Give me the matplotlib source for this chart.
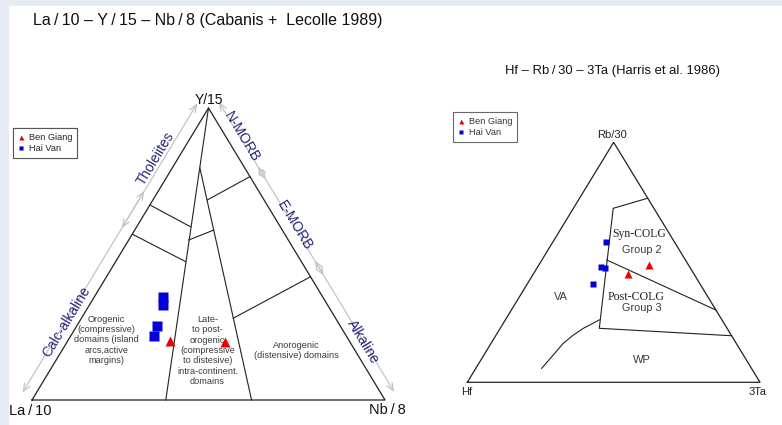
import numpy as np
import matplotlib
matplotlib.use("Agg")
import matplotlib.pyplot as plt
from matplotlib.patches import Rectangle
from matplotlib.lines import Line2D

plt.rcParams['font.family'] = ['Liberation Sans', 'DejaVu Sans']

# ---------------- data: La/10 - Y/15 - Nb/8 (fractions) ----------------
hv_la = [0.453, 0.467, 0.518, 0.544]
hv_y = [0.354, 0.325, 0.253, 0.218]
hv_nb = [0.193, 0.208, 0.229, 0.238]
bg_la = [0.508, 0.354]
bg_y = [0.202, 0.199]
bg_nb = [0.290, 0.447]

# ---------------- data: Hf - Rb/30 - 3Ta (fractions) ----------------
hv_hf = [0.234, 0.302, 0.293, 0.364]
hv_rb = [0.586, 0.482, 0.475, 0.410]
hv_ta = [0.180, 0.216, 0.232, 0.226]
bg_hf = [0.134, 0.227]
bg_rb = [0.489, 0.450]
bg_ta = [0.377, 0.323]

# field boundaries (a, b, c) = (left, top, right) vertex fractions
left_fields = [
    [(0, 1, 0), (0.621, 0, 0.379)],
    [(0.127, 0.795, 0.078), (0.378, 0, 0.622)],
    [(0.332, 0.668, 0), (0.254, 0.593, 0.153)],
    [(0.432, 0.568, 0), (0.328, 0.474, 0.198)],
    [(0.161, 0.685, 0.154), (0, 0.765, 0.235)],
    [(0.282, 0.548, 0.170), (0.194, 0.582, 0.224)],
    [(0.290, 0.280, 0.430), (0, 0.422, 0.578)],
]
right_fields = [
    [(0, 0.767, 0.233), (0.139, 0.725, 0.136), (0.4365, 0.225, 0.3385), (0, 0.194, 0.806)],
    [(0.269, 0.510, 0.221), (0, 0.301, 0.699)],
    [(0.419, 0.260, 0.321), (0.4535, 0.243, 0.3035), (0.491, 0.225, 0.284),
     (0.539, 0.197, 0.264), (0.591, 0.1625, 0.2465), (0.649, 0.114, 0.237),
     (0.717, 0.058, 0.225)],
]

# magmatic-series arrows: (edge, t_start, t_end, label, t_label, label offset px)
series_arrows = [
    ('left', 0.004, 0.695, 'Calc-alkaline', 0.247, 11),
    ('left', 0.567, 0.995, 'Tholeiites', 0.793, 19),
    ('right', 0.0, 0.266, 'N-MORB', 0.123, 13),
    ('right', 0.221, 0.595, 'E-MORB', 0.427, 13),
    ('right', 0.543, 0.994, 'Alkaline', 0.822, 11),
]

legend_labels = ['Ben Giang', 'Hai Van']
RED = '#ee0000'
BLUE = '#0000dd'
NAVY = '#26267a'
TXT = '#3a3a3a'


def tern(a, b, c):
    a, b, c = (np.asarray(v, dtype=float) for v in (a, b, c))
    s = a + b + c
    return (c + b / 2) / s, b / s


W, H = 782, 425
fig = plt.figure(figsize=(W / 100, H / 100), dpi=100)
fig.patch.set_facecolor('#e7ebf6')
fig.add_artist(Rectangle((9 / W, 0), 1, (H - 6) / H, transform=fig.transFigure,
                         facecolor='white', edgecolor='none', zorder=-10))


def make_ax(x0, x1, ybase, yapex):
    ax = fig.add_axes([x0 / W, (H - ybase) / H, (x1 - x0) / W, (ybase - yapex) / H])
    ax.set_xlim(0, 1)
    ax.set_ylim(0, 1)
    ax.axis('off')
    return ax


axL = make_ax(32, 385, 400, 108)
axR = make_ax(467.3, 760, 382.3, 142.3)


def draw_triangle(ax, fields):
    x, y = tern([1, 0, 0, 1], [0, 1, 0, 0], [0, 0, 1, 0])
    ax.plot(x, y, color='#222222', lw=0.9, clip_on=False)
    for f in fields:
        a, b, c = zip(*f)
        x, y = tern(a, b, c)
        ax.plot(x, y, color='#222222', lw=0.8, clip_on=False)


draw_triangle(axL, left_fields)
draw_triangle(axR, right_fields)

# ---- left panel points ----
x, y = tern(bg_la, bg_y, bg_nb)
axL.plot(x, y, ls='none', marker='^', ms=7.2, color=RED, mec='none', clip_on=False, zorder=5)
x, y = tern(hv_la, hv_y, hv_nb)
axL.plot(x, y, ls='none', marker='s', ms=6.8, color=BLUE, mec='none', clip_on=False, zorder=5)

# ---- right panel points ----
x, y = tern(bg_hf, bg_rb, bg_ta)
axR.plot(x, y, ls='none', marker='^', ms=6.2, color=RED, mec='none', clip_on=False, zorder=5)
x, y = tern(hv_hf, hv_rb, hv_ta)
axR.plot(x, y, ls='none', marker='s', ms=5.0, color=BLUE, mec='none', clip_on=False, zorder=5)

# ---- arrows along the edges of the left triangle ----
fig.canvas.draw()
edges = {
    'left': (tern(1, 0, 0), tern(0, 1, 0)),
    'right': (tern(0, 1, 0), tern(0, 0, 1)),
}
inv = axL.transData.inverted()
for edge, t0, t1, lab, tl, loff in series_arrows:
    P0, P1 = edges[edge]
    d0 = axL.transData.transform(np.array(P0, dtype=float))
    d1 = axL.transData.transform(np.array(P1, dtype=float))
    v = d1 - d0
    u = v / np.hypot(*v)
    n = np.array([-u[1], u[0]])
    off = 12
    pa = inv.transform(d0 + t0 * v + off * n)
    pb = inv.transform(d0 + t1 * v + off * n)
    axL.annotate('', xy=pb, xytext=pa, xycoords='data', textcoords='data',
                 arrowprops=dict(arrowstyle='<->,head_length=0.55,head_width=0.22',
                                 color='#c4c4c4', lw=0.9, shrinkA=0, shrinkB=0),
                 annotation_clip=False)
    pl = inv.transform(d0 + tl * v + loff * n)
    ang = np.degrees(np.arctan2(v[1], v[0]))
    axL.text(pl[0], pl[1], lab, rotation=ang, rotation_mode='anchor', ha='center',
             va='center', fontsize=10, color=NAVY, clip_on=False)

# ---- left panel labels ----
axL.text(0.501, 1.029, 'Y/15', ha='center', va='center', fontsize=10, color='#111111')
axL.text(-0.006, -0.038, 'La\u2009/\u200910', ha='center', va='center', fontsize=10.5, color='#111111')
axL.text(1.006, -0.034, 'Nb\u2009/\u20098', ha='center', va='center', fontsize=10.5, color='#111111')
axL.text(0.2116, 0.2055, 'Orogenic\n(compressive)\ndomains (island\narcs,active\nmargins)',
         ha='center', va='center', multialignment='center', fontsize=6.6, color=TXT, linespacing=1.15)
axL.text(0.497, 0.1695, 'Late-\nto post-\norogenic\n(compressive\nto distesive)\nintra-continent.\ndomains',
         ha='center', va='center', multialignment='center', fontsize=6.6, color=TXT, linespacing=1.2)
axL.text(0.750, 0.169, 'Anorogenic\n(distensive) domains', ha='center', va='center',
         multialignment='center', fontsize=6.6, color=TXT, linespacing=1.15)

# ---- right panel labels ----
axR.text(0.496, 1.0325, 'Rb/30', ha='center', va='center', fontsize=8, color='#222222')
axR.text(-0.002, -0.040, 'Hf', ha='center', va='center', fontsize=8, color='#222222')
axR.text(0.993, -0.040, '3Ta', ha='center', va='center', fontsize=8, color='#222222')
axR.text(0.5876, 0.6167, 'Syn-COLG', ha='center', va='center', fontsize=8.4,
         family=['Liberation Serif', 'DejaVu Serif'], color='#222222')
axR.text(0.596, 0.551, 'Group 2', ha='center', va='center', fontsize=7.8, color=TXT)
axR.text(0.5753, 0.357, 'Post-COLG', ha='center', va='center', fontsize=8.6,
         family=['Liberation Serif', 'DejaVu Serif'], color='#222222')
axR.text(0.596, 0.311, 'Group 3', ha='center', va='center', fontsize=7.8, color=TXT)
axR.text(0.319, 0.357, 'VA', ha='center', va='center', fontsize=8, color=TXT)
axR.text(0.596, 0.093, 'WP', ha='center', va='center', fontsize=8, color=TXT)

# ---- titles ----
fig.text(207.5 / W, 1 - 20 / H,
         'La\u2009/\u200910 \u2013 Y\u2009/\u200915 \u2013 Nb\u2009/\u20098 (Cabanis +  Lecolle 1989)',
         ha='center', va='center', fontsize=11.5, color='#111111')
fig.text(612.5 / W, 1 - 71 / H, 'Hf \u2013 Rb\u2009/\u200930 \u2013 3Ta (Harris et al. 1986)',
         ha='center', va='center', fontsize=9.4, color='#111111')

# ---- legends ----
def add_legend(x_px, y_px):
    handles = [Line2D([], [], ls='none', marker='^', ms=3.6, color=RED, mec='none'),
               Line2D([], [], ls='none', marker='s', ms=3.2, color=BLUE, mec='none')]
    lg = fig.legend(handles, legend_labels, loc='upper left',
                    bbox_to_anchor=(x_px / W, 1 - y_px / H), bbox_transform=fig.transFigure,
                    fontsize=6.6, frameon=True, fancybox=False, edgecolor='#444444',
                    handlelength=0.6, handletextpad=0.6, borderpad=0.5, labelspacing=0.25,
                    borderaxespad=0)
    lg.get_frame().set_linewidth(0.8)
    for t in lg.get_texts():
        t.set_color('#333333')
    return lg

l1 = add_legend(13.3, 128.3)
add_legend(453.3, 112.3)
fig.add_artist(l1)

fig.savefig('out.png', dpi=100, facecolor=fig.get_facecolor())
